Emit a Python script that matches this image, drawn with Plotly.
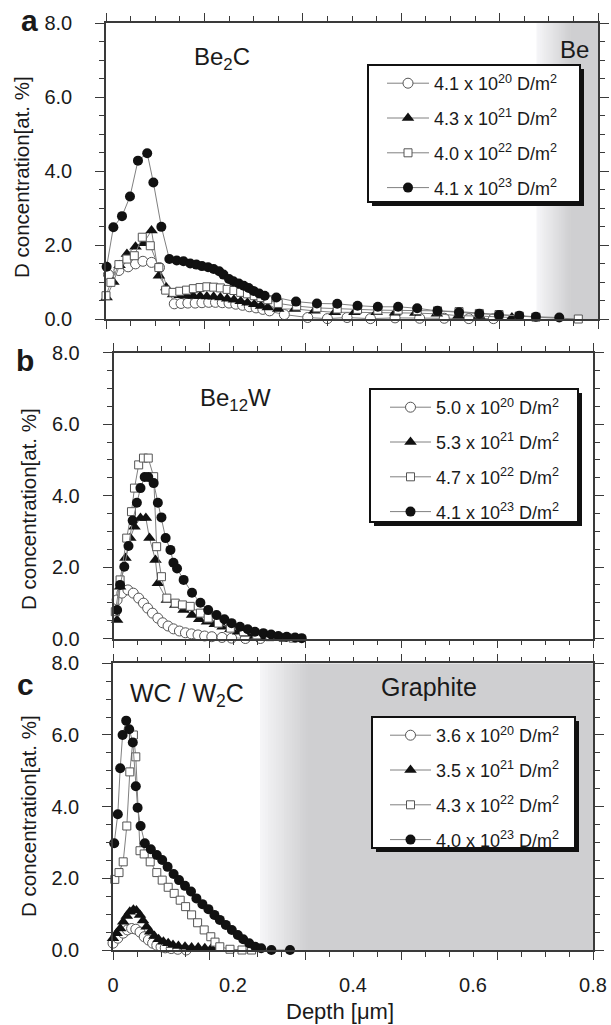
import plotly.graph_objects as go

W, H = 611, 1025
FONT = "Arial, Liberation Sans, Helvetica, sans-serif"

# ---------------- data: panel a (Be2C) ----------------
A_LABELS = ["4.1 x 10<sup>20</sup> D/m<sup>2</sup>", "4.3 x 10<sup>21</sup> D/m<sup>2</sup>",
            "4.0 x 10<sup>22</sup> D/m<sup>2</sup>", "4.1 x 10<sup>23</sup> D/m<sup>2</sup>"]
A1_d = [0.004, 0.021, 0.036, 0.048, 0.060, 0.074, 0.087, 0.111, 0.122, 0.133, 0.145, 0.156, 0.167, 0.178,
        0.189, 0.200, 0.211, 0.222, 0.233, 0.244, 0.255, 0.266, 0.290, 0.328, 0.360, 0.392, 0.430, 0.470,
        0.510, 0.550, 0.590, 0.630]
A1_v = [1.20, 1.31, 1.41, 1.49, 1.56, 1.53, 1.39, 0.41, 0.42, 0.43, 0.43, 0.44, 0.45, 0.45, 0.44, 0.43,
        0.40, 0.37, 0.33, 0.30, 0.26, 0.22, 0.12, 0.04, 0.01, 0.04, 0.01, 0.03, 0.02, 0.02, 0.01, 0.01]
A2_d = [0.001, 0.012, 0.022, 0.034, 0.048, 0.061, 0.074, 0.086, 0.098, 0.109, 0.120, 0.131, 0.142, 0.153,
        0.164, 0.175, 0.186, 0.197, 0.208, 0.219, 0.230, 0.241, 0.252, 0.263, 0.280, 0.307, 0.339, 0.372,
        0.404, 0.440, 0.470, 0.503, 0.538, 0.573, 0.607, 0.660]
A2_v = [0.58, 1.00, 1.45, 1.76, 1.95, 2.05, 2.39, 1.17, 0.85, 0.66, 0.64, 0.63, 0.62, 0.62, 0.61, 0.60,
        0.58, 0.55, 0.52, 0.48, 0.44, 0.40, 0.35, 0.31, 0.27, 0.27, 0.22, 0.18, 0.18, 0.18, 0.17, 0.16,
        0.14, 0.09, 0.08, 0.04]
A3_d = [0.000, 0.008, 0.021, 0.034, 0.046, 0.059, 0.072, 0.086, 0.097, 0.109, 0.120, 0.131, 0.142, 0.153,
        0.164, 0.175, 0.186, 0.197, 0.208, 0.219, 0.230, 0.241, 0.252, 0.263, 0.280, 0.310, 0.343, 0.376,
        0.409, 0.442, 0.475, 0.506, 0.539, 0.574, 0.607, 0.639, 0.672, 0.699, 0.768]
A3_v = [0.63, 0.99, 1.47, 1.62, 1.71, 2.21, 1.98, 1.39, 0.78, 0.72, 0.75, 0.78, 0.82, 0.85, 0.87, 0.86,
        0.84, 0.80, 0.77, 0.72, 0.68, 0.63, 0.58, 0.52, 0.42, 0.35, 0.30, 0.27, 0.26, 0.24, 0.24, 0.23,
        0.22, 0.20, 0.15, 0.12, 0.08, 0.05, 0.00]
A4_d = [0.001, 0.012, 0.026, 0.039, 0.052, 0.067, 0.077, 0.090, 0.103, 0.115, 0.126, 0.137, 0.147, 0.156,
        0.166, 0.175, 0.184, 0.191, 0.200, 0.207, 0.216, 0.224, 0.232, 0.240, 0.249, 0.258, 0.277, 0.309,
        0.343, 0.376, 0.409, 0.442, 0.475, 0.506, 0.539, 0.574, 0.607, 0.639, 0.672, 0.699, 0.737]
A4_v = [1.41, 2.48, 2.78, 3.31, 4.28, 4.48, 3.69, 2.49, 1.62, 1.58, 1.56, 1.50, 1.47, 1.43, 1.40, 1.35,
        1.29, 1.20, 1.08, 1.02, 0.96, 0.90, 0.84, 0.76, 0.69, 0.63, 0.58, 0.47, 0.42, 0.41, 0.36, 0.33,
        0.33, 0.29, 0.22, 0.18, 0.14, 0.11, 0.09, 0.06, 0.04]

# ---------------- data: panel b (Be12W) ----------------
B_LABELS = ["5.0 x 10<sup>20</sup> D/m<sup>2</sup>", "5.3 x 10<sup>21</sup> D/m<sup>2</sup>",
            "4.7 x 10<sup>22</sup> D/m<sup>2</sup>", "4.1 x 10<sup>23</sup> D/m<sup>2</sup>"]
B1_d = [0.006, 0.014, 0.024, 0.033, 0.042, 0.050, 0.057, 0.065, 0.074, 0.082, 0.091, 0.100, 0.110, 0.120,
        0.130, 0.141, 0.152, 0.164, 0.181, 0.197, 0.220, 0.245]
B1_v = [1.08, 1.27, 1.36, 1.27, 1.13, 0.99, 0.85, 0.71, 0.57, 0.44, 0.35, 0.27, 0.21, 0.16, 0.13, 0.10,
        0.07, 0.05, 0.03, 0.01, 0.00, 0.00]
B2_d = [0.006, 0.011, 0.020, 0.028, 0.035, 0.045, 0.054, 0.060, 0.070, 0.074, 0.089, 0.103, 0.117, 0.131,
        0.143, 0.156, 0.169, 0.182, 0.195, 0.208, 0.222, 0.236, 0.250]
B2_v = [0.52, 1.45, 2.25, 2.81, 3.13, 3.37, 3.37, 2.81, 2.20, 1.55, 1.08, 0.94, 0.80, 0.66, 0.54, 0.47,
        0.40, 0.33, 0.26, 0.19, 0.13, 0.07, 0.03]
B3_d = [0.003, 0.011, 0.022, 0.030, 0.035, 0.042, 0.050, 0.058, 0.067, 0.072, 0.080, 0.089, 0.103, 0.115,
        0.128, 0.145, 0.158, 0.175, 0.195, 0.217, 0.239, 0.261, 0.283, 0.300]
B3_v = [0.75, 1.64, 2.81, 3.55, 4.21, 4.86, 5.05, 5.05, 4.53, 2.57, 1.73, 1.13, 0.99, 0.94, 0.90, 0.71,
        0.57, 0.43, 0.29, 0.19, 0.10, 0.05, 0.03, 0.01]
B4_d = [0.006, 0.011, 0.018, 0.025, 0.032, 0.039, 0.045, 0.052, 0.058, 0.067, 0.074, 0.080, 0.087, 0.095,
        0.100, 0.106, 0.117, 0.131, 0.145, 0.158, 0.172, 0.185, 0.197, 0.211, 0.224, 0.236, 0.250, 0.263,
        0.275, 0.289, 0.303, 0.314]
B4_v = [0.80, 1.50, 2.01, 2.59, 3.30, 3.80, 4.21, 4.52, 4.52, 4.35, 3.80, 3.39, 2.81, 2.48, 2.12, 1.96,
        1.64, 1.28, 1.00, 0.80, 0.66, 0.54, 0.43, 0.33, 0.26, 0.19, 0.15, 0.11, 0.07, 0.05, 0.03, 0.01]

# ---------------- data: panel c (WC / W2C) ----------------
C_LABELS = ["3.6 x 10<sup>20</sup> D/m<sup>2</sup>", "3.5 x 10<sup>21</sup> D/m<sup>2</sup>",
            "4.3 x 10<sup>22</sup> D/m<sup>2</sup>", "4.0 x 10<sup>23</sup> D/m<sup>2</sup>"]
C1_d = [0.000, 0.008, 0.017, 0.024, 0.031, 0.038, 0.045, 0.052, 0.059, 0.066, 0.073, 0.080, 0.087, 0.097,
        0.108, 0.122]
C1_v = [0.19, 0.33, 0.47, 0.56, 0.60, 0.58, 0.50, 0.37, 0.28, 0.19, 0.13, 0.09, 0.06, 0.04, 0.02, 0.00]
C2_d = [0.000, 0.006, 0.012, 0.017, 0.023, 0.028, 0.034, 0.039, 0.045, 0.050, 0.056, 0.062, 0.069, 0.076,
        0.084, 0.092, 0.100, 0.109, 0.120, 0.131, 0.142, 0.153, 0.164, 0.176]
C2_v = [0.33, 0.47, 0.60, 0.79, 0.95, 1.07, 1.12, 1.10, 0.98, 0.82, 0.65, 0.51, 0.39, 0.30, 0.23, 0.19,
        0.14, 0.11, 0.09, 0.07, 0.07, 0.05, 0.05, 0.04]
C3_d = [0.003, 0.010, 0.017, 0.023, 0.028, 0.034, 0.038, 0.045, 0.052, 0.062, 0.073, 0.082, 0.092, 0.102,
        0.112, 0.121, 0.131, 0.141, 0.152, 0.163, 0.170, 0.178, 0.195, 0.215, 0.231]
C3_v = [1.97, 2.16, 2.46, 3.46, 4.97, 6.00, 5.39, 2.77, 2.68, 2.46, 2.16, 1.95, 1.75, 1.58, 1.39, 1.21,
        0.98, 0.76, 0.56, 0.37, 0.22, 0.09, 0.02, 0.00, 0.00]
C4_d = [0.002, 0.008, 0.012, 0.016, 0.022, 0.027, 0.033, 0.038, 0.041, 0.046, 0.053, 0.063, 0.073, 0.082,
        0.091, 0.101, 0.110, 0.120, 0.130, 0.139, 0.149, 0.159, 0.169, 0.178, 0.188, 0.198, 0.208, 0.217,
        0.227, 0.237, 0.247, 0.264, 0.295]
C4_v = [2.98, 3.79, 5.07, 6.00, 6.40, 6.16, 5.79, 4.57, 3.97, 3.46, 2.98, 2.81, 2.65, 2.51, 2.32, 2.12,
        1.95, 1.79, 1.63, 1.44, 1.28, 1.14, 0.98, 0.84, 0.70, 0.56, 0.42, 0.30, 0.19, 0.09, 0.05, 0.00,
        0.00]

X_MAJOR = [0, 0.16, 0.32, 0.48, 0.64, 0.8]
X_LABEL_VALS = [0, 0.2, 0.4, 0.6, 0.8]
X_LABEL_TEXT = ["0", "0.2", "0.4", "0.6", "0.8"]
Y_VALS = [0, 2, 4, 6, 8]
Y_TEXT = ["0.0", "2.0", "4.0", "6.0", "8.0"]

# shaded substrate regions (depth units)
BE_GRAD = (0.70, 0.755)
GRAPHITE_GRAD = (0.245, 0.325)

# ---------------- styles ----------------
STYLES = [
    dict(symbol="circle", size=10, color="white", line=dict(color="#555", width=1)),
    dict(symbol="triangle-up", size=11, color="#111", line=dict(color="#111", width=0)),
    dict(symbol="square", size=8, color="white", line=dict(color="#555", width=1)),
    dict(symbol="circle", size=10, color="#111", line=dict(color="#111", width=0)),
]
LINE = dict(color="#808080", width=1)

def px_x(p):
    return p / W

def px_y(p):
    return 1 - p / H

panels = [
    dict(xa="x", ya="y", leg="legend", labels=A_LABELS,
         series=[(A1_d, A1_v), (A2_d, A2_v), (A3_d, A3_v), (A4_d, A4_v)],
         xdom=[106 / W, 598 / W], ydom=[px_y(319), px_y(23)]),
    dict(xa="x2", ya="y2", leg="legend2", labels=B_LABELS,
         series=[(B1_d, B1_v), (B2_d, B2_v), (B3_d, B3_v), (B4_d, B4_v)],
         xdom=[113.5 / W, 593 / W], ydom=[px_y(638.5), px_y(352.7)]),
    dict(xa="x3", ya="y3", leg="legend3", labels=C_LABELS,
         series=[(C1_d, C1_v), (C2_d, C2_v), (C3_d, C3_v), (C4_d, C4_v)],
         xdom=[113 / W, 593 / W], ydom=[px_y(950), px_y(663.3)]),
]

fig = go.Figure()
for pi, p in enumerate(panels):
    for si, (d, v) in enumerate(p["series"]):
        fig.add_trace(go.Scatter(
            x=d, y=v, xaxis=p["xa"], yaxis=p["ya"], mode="lines+markers",
            name=p["labels"][si], legend=p["leg"], legendgroup=f"g{pi}{si}",
            marker=STYLES[si], line=LINE, cliponaxis=False, hoverinfo="skip"))

# empty trace so that the label-only overlay axis is drawn
fig.add_trace(go.Scatter(x=[], y=[], xaxis="x4", yaxis="y3", showlegend=False, hoverinfo="skip"))

AX = "#3a3a3a"
def xaxis(dom, anchor):
    return dict(domain=dom, anchor=anchor, range=[0, 0.8], tickmode="array", tickvals=X_MAJOR,
                ticks="outside", ticklen=8, tickwidth=1.2, tickcolor=AX, showticklabels=False,
                showline=True, linecolor=AX, linewidth=1.5, mirror="ticks", showgrid=False,
                zeroline=False, automargin=False,
                minor=dict(dtick=0.04, tick0=0, ticks="outside", ticklen=5, tickwidth=1, tickcolor=AX))

def yaxis(dom, anchor):
    return dict(domain=dom, anchor=anchor, range=[0, 8], tickmode="array", tickvals=Y_VALS,
                ticktext=Y_TEXT, ticks="outside", ticklen=9, tickwidth=1.2, tickcolor=AX,
                showline=True, linecolor=AX, linewidth=1.5, mirror="ticks", showgrid=False,
                zeroline=False, tickfont=dict(size=20, color="#1a1a1a", family=FONT),
                ticklabelstandoff=19, automargin=False,
                minor=dict(dtick=0.5, tick0=0, ticks="outside", ticklen=5, tickwidth=1, tickcolor=AX))

layout = dict(
    width=W, height=H, margin=dict(l=0, r=0, t=0, b=0, pad=0, autoexpand=False),
    paper_bgcolor="white", plot_bgcolor="white",
    font=dict(family=FONT, color="#1a1a1a"),
    xaxis=xaxis(panels[0]["xdom"], "y"), yaxis=yaxis(panels[0]["ydom"], "x"),
    xaxis2=xaxis(panels[1]["xdom"], "y2"), yaxis2=yaxis(panels[1]["ydom"], "x2"),
    xaxis3=xaxis(panels[2]["xdom"], "y3"), yaxis3=yaxis(panels[2]["ydom"], "x3"),
    xaxis4=dict(overlaying="x3", anchor="y3", side="bottom", range=[0, 0.8], tickmode="array",
                tickvals=X_LABEL_VALS, ticktext=X_LABEL_TEXT, ticks="outside", ticklen=17,
                tickcolor="rgba(0,0,0,0)", showline=False, automargin=False,
                showgrid=False, zeroline=False,
                tickfont=dict(size=20, color="#1a1a1a", family=FONT)),
)

# legends (boxes are drawn as shapes)
LEG_POS = [(382, 65, 42), (385, 389, 41), (385, 717, 41)]
for key, (lx, ly, iw) in zip(["legend", "legend2", "legend3"], LEG_POS):
    layout[key] = dict(x=px_x(lx), y=px_y(ly), xanchor="left", yanchor="top",
                       bgcolor="rgba(0,0,0,0)", borderwidth=0, traceorder="grouped",
                       tracegroupgap=8.4, itemwidth=iw,
                       font=dict(size=18, color="#1a1a1a", family=FONT))
fig.update_layout(**layout)

shapes = []
# gradient substrate shading
def gradient(xref, yref, g0, g1, n=18):
    out = []
    c0, c1 = 246, 207
    step = (g1 - g0) / n
    for i in range(n):
        c = int(round(c0 + (c1 - c0) * (i + 0.5) / n))
        col = f"rgb({c},{c},{min(255, c + 2)})"
        out.append(dict(type="rect", xref=xref, yref=yref, x0=g0 + i * step, x1=g0 + (i + 1) * step + 0.001,
                        y0=0, y1=8, fillcolor=col, line=dict(width=0), layer="below"))
    out.append(dict(type="rect", xref=xref, yref=yref, x0=g1, x1=0.8, y0=0, y1=8,
                    fillcolor="rgb(207,207,209)", line=dict(width=0), layer="below"))
    return out

shapes += gradient("x", "y", *BE_GRAD)
shapes += gradient("x3", "y3", *GRAPHITE_GRAD)

LEG_BOX = [(368, 65, 580, 202), (370, 389, 578, 522), (372, 717, 575, 848)]
for (x0, y0, x1, y1) in LEG_BOX:
    shapes.append(dict(type="rect", xref="paper", yref="paper", x0=px_x(x0 + 4), x1=px_x(x1 + 4),
                       y0=px_y(y0 + 4), y1=px_y(y1 + 4), fillcolor="#111", line=dict(width=0),
                       layer="above"))
    shapes.append(dict(type="rect", xref="paper", yref="paper", x0=px_x(x0), x1=px_x(x1),
                       y0=px_y(y0), y1=px_y(y1), fillcolor="white", line=dict(color="#111", width=2),
                       layer="above"))
fig.update_layout(shapes=shapes)

def ann(text, x, y, size, bold=False, angle=0):
    return dict(text=f"<b>{text}</b>" if bold else text, x=px_x(x), y=px_y(y), xref="paper",
                yref="paper", showarrow=False, xanchor="center", yanchor="middle", textangle=angle,
                font=dict(size=size, color="#1a1a1a", family=FONT))

annotations = [
    ann("a", 30, 20, 30, bold=True),
    ann("b", 25, 360, 30, bold=True),
    ann("c", 25, 684, 30, bold=True),
    ann("D concentration[at. %]", 22, 177, 20.5, angle=-90),
    ann("D concentration[at. %]", 28, 509, 20.5, angle=-90),
    ann("D concentration[at. %]", 28, 816, 20.5, angle=-90),
    ann("Be<sub>2</sub>C", 222, 58, 24),
    ann("Be", 574, 49, 24),
    ann("Be<sub>12</sub>W", 235, 399, 24),
    ann("WC / W<sub>2</sub>C", 187, 695, 25),
    ann("Graphite", 429, 687, 25),
    ann("Depth [\u03bcm]", 340, 1011, 22),
]
fig.update_layout(annotations=annotations)

# remove the browser's default 8px page margin so the figure sits at the window origin
fig.write_html("out.html", config={"displayModeBar": False},
               post_script="document.body.style.margin='0px';")
